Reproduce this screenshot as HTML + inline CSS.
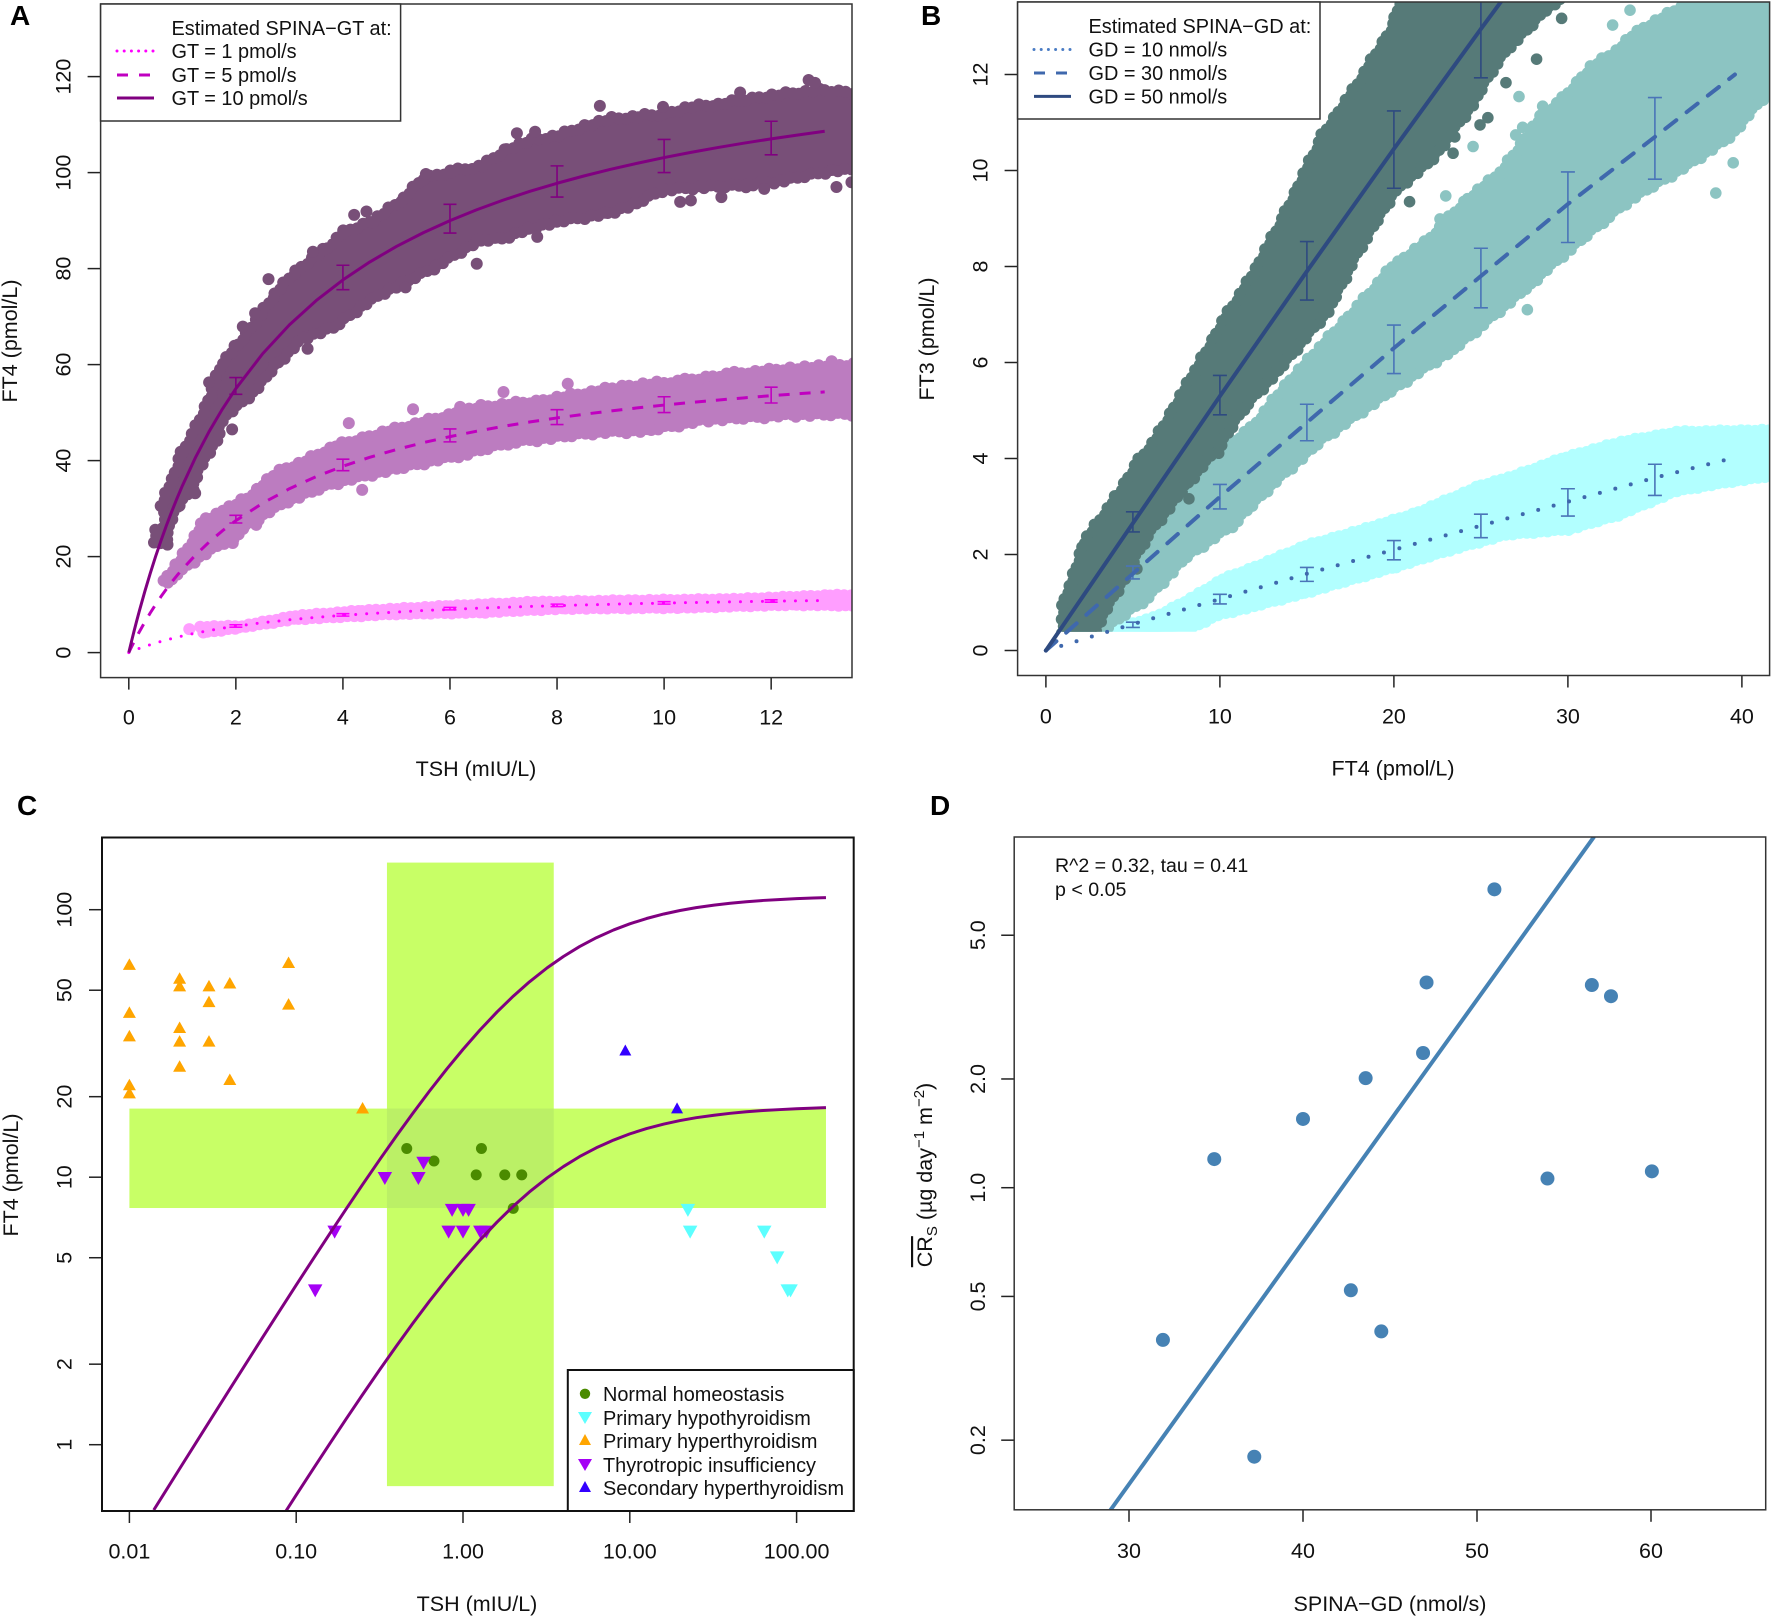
<!DOCTYPE html>
<html lang="en">
<head>
<meta charset="utf-8">
<title>SPINA thyroid model charts</title>
<style>
html,body{margin:0;padding:0;background:#fff;overflow:hidden;}
svg{display:block;font-family:"Liberation Sans",Arial,sans-serif;fill:#111;}
.ax{font-size:21.5px;}
.lg{font-size:19.9px;}
.pl{font-size:28px;font-weight:bold;fill:#000;}
</style>
</head>
<body>
<svg id="fig" xmlns="http://www.w3.org/2000/svg" width="1772" height="1616" viewBox="0 0 1772 1616">
  <defs>
    <clipPath id="clipA"><rect x="100.6" y="4" width="751.4" height="673.6"/></clipPath>
    <clipPath id="clipB"><rect x="1017.6" y="2" width="752" height="673.5"/></clipPath>
    <clipPath id="clipBCloud"><rect x="1017.6" y="2" width="752" height="629.7"/></clipPath>
    <clipPath id="clipC"><rect x="101.7" y="837.5" width="752" height="673.5"/></clipPath>
    <clipPath id="clipD"><rect x="1014.2" y="837" width="751.5" height="672.8"/></clipPath>
  </defs>
  <rect x="0" y="0" width="1772" height="1616" fill="#fff"/>

  <g id="marksA"></g>
  <g id="marksB"></g>
  <g id="marksC"></g>
  <g id="marksD"></g>

  <!-- Panel A frame, labels, legend -->
  <rect x="100.6" y="4" width="751.4" height="673.6" fill="none" stroke="#333" stroke-width="1.5"/>
  <text class="pl" x="10" y="25">A</text>
  <text class="ax" x="476" y="776" text-anchor="middle">TSH (mIU/L)</text>
  <text class="ax" transform="translate(17,341) rotate(-90)" text-anchor="middle">FT4 (pmol/L)</text>
  <g>
    <rect x="100.6" y="4" width="300" height="117" fill="#fff" stroke="#333" stroke-width="1.5"/>
    <text class="lg" x="171.5" y="35">Estimated SPINA−GT at:</text>
    <line x1="117" y1="51" x2="154" y2="51" stroke="#ff00ff" stroke-width="3" stroke-linecap="round" stroke-dasharray="0 7.2"/>
    <text class="lg" x="171.5" y="58">GT = 1 pmol/s</text>
    <line x1="117" y1="75" x2="154" y2="75" stroke="#c000c0" stroke-width="3" stroke-dasharray="11 11"/>
    <text class="lg" x="171.5" y="82">GT = 5 pmol/s</text>
    <line x1="117" y1="98" x2="154" y2="98" stroke="#800080" stroke-width="3"/>
    <text class="lg" x="171.5" y="105">GT = 10 pmol/s</text>
  </g>

  <!-- Panel B frame, labels, legend -->
  <rect x="1017.6" y="2" width="752" height="673.5" fill="none" stroke="#333" stroke-width="1.5"/>
  <text class="pl" x="921" y="25">B</text>
  <text class="ax" x="1393" y="775.5" text-anchor="middle">FT4 (pmol/L)</text>
  <text class="ax" transform="translate(934,339) rotate(-90)" text-anchor="middle">FT3 (pmol/L)</text>
  <g>
    <rect x="1017.6" y="2" width="302.4" height="117" fill="#fff" stroke="#333" stroke-width="1.5"/>
    <text class="lg" x="1088.5" y="33">Estimated SPINA−GD at:</text>
    <line x1="1034" y1="49.5" x2="1071" y2="49.5" stroke="#4a7cc4" stroke-width="3" stroke-linecap="round" stroke-dasharray="0 7.2"/>
    <text class="lg" x="1088.5" y="56.5">GD = 10 nmol/s</text>
    <line x1="1034" y1="73" x2="1071" y2="73" stroke="#3f68ad" stroke-width="3" stroke-dasharray="11 11"/>
    <text class="lg" x="1088.5" y="80">GD = 30 nmol/s</text>
    <line x1="1034" y1="96.4" x2="1071" y2="96.4" stroke="#2e4a80" stroke-width="3"/>
    <text class="lg" x="1088.5" y="103.4">GD = 50 nmol/s</text>
  </g>

  <!-- Panel C frame, labels, legend -->
  <rect x="102" y="837.5" width="751.7" height="673.5" fill="none" stroke="#111" stroke-width="2"/>
  <text class="pl" x="17" y="815">C</text>
  <text class="ax" x="477" y="1611" text-anchor="middle">TSH (mIU/L)</text>
  <text class="ax" transform="translate(18,1175) rotate(-90)" text-anchor="middle">FT4 (pmol/L)</text>
  <g>
    <rect x="567.8" y="1370" width="285.9" height="141" fill="#fff" stroke="#111" stroke-width="2"/>
    <circle cx="585" cy="1393.8" r="5.2" fill="#4b8b00"/>
    <text class="lg" x="603" y="1401">Normal homeostasis</text>
    <polygon points="578,1412 592,1412 585,1424" fill="#5cffff"/>
    <text class="lg" x="603" y="1425">Primary hypothyroidism</text>
    <polygon points="585,1434 591,1445 579,1445" fill="#ffa500"/>
    <text class="lg" x="603" y="1448">Primary hyperthyroidism</text>
    <polygon points="578,1459 592,1459 585,1471" fill="#a500f5"/>
    <text class="lg" x="603" y="1472">Thyrotropic insufficiency</text>
    <polygon points="585,1481 591,1492 579,1492" fill="#3300ff"/>
    <text class="lg" x="603" y="1495">Secondary hyperthyroidism</text>
  </g>

  <!-- Panel D frame, labels, annotation -->
  <rect x="1014.2" y="837" width="751.5" height="672.8" fill="none" stroke="#333" stroke-width="1.5"/>
  <text class="pl" x="930" y="815">D</text>
  <text class="ax" x="1390" y="1611" text-anchor="middle">SPINA−GD (nmol/s)</text>
  <text class="ax" transform="translate(932,1175) rotate(-90)" text-anchor="middle"><tspan style="text-decoration:overline">CR</tspan><tspan font-size="15" dy="5">S</tspan><tspan dy="-5"> (µg day</tspan><tspan font-size="15" dy="-8">−1</tspan><tspan dy="8"> m</tspan><tspan font-size="15" dy="-8">−2</tspan><tspan dy="8">)</tspan></text>
  <text x="1055" y="872" font-size="19.6">R^2 = 0.32, tau = 0.41</text>
  <text x="1055" y="896" font-size="19.6">p &lt; 0.05</text>

<script>
// ---------- Panel A data ----------
var gtTicksX = [0, 2, 4, 6, 8, 10, 12];
var gtTicksY = [0, 20, 40, 60, 80, 100, 120];
var gtCurveTsh = [0,0.05,0.1,0.15,0.2,0.3,0.4,0.5,0.6,0.7,0.8,0.9,1,1.25,1.5,1.75,2,2.5,3,3.5,4,4.5,5,5.5,6,6.5,7,7.5,8,8.5,9,9.5,10,10.5,11,11.5,12,12.5,13];
var gt10Curve = [0,2.32,4.55,6.71,8.8,12.77,16.5,20,23.29,26.4,29.33,32.11,34.74,40.74,46.05,50.77,55,62.26,68.28,73.33,77.65,81.37,84.62,87.47,90,92.26,94.29,96.12,97.78,99.29,100.68,101.95,103.13,104.21,105.22,106.15,107.03,107.84,108.61];
var gt5Curve = [0,1.16,2.28,3.36,4.4,6.39,8.25,10,11.65,13.2,14.67,16.06,17.37,20.37,23.03,25.39,27.5,31.13,34.14,36.67,38.83,40.69,42.31,43.74,45,46.13,47.15,48.06,48.89,49.65,50.34,50.98,51.57,52.11,52.61,53.08,53.52,53.92,54.31];
var gt1Curve = [0,0.23,0.46,0.67,0.88,1.28,1.65,2,2.33,2.64,2.93,3.21,3.47,4.07,4.61,5.08,5.5,6.23,6.83,7.33,7.77,8.14,8.46,8.75,9,9.23,9.43,9.61,9.78,9.93,10.07,10.2,10.31,10.42,10.52,10.62,10.7,10.78,10.86];
var gtBarTsh = [2, 4, 6, 8, 10, 12];
var gt10BarHi = [57.3, 80.7, 93.4, 101.4, 106.9, 110.7];
var gt10BarLo = [53.8, 75.6, 87.4, 94.9, 100, 103.7];
var gt5BarHi = [28.6, 40.3, 46.6, 50.6, 53.3, 55.3];
var gt5BarLo = [27, 37.9, 43.9, 47.5, 50, 52];
var gt1BarHi = [5.8, 8.1, 9.4, 10.1, 10.6, 11];
var gt1BarLo = [5.3, 7.6, 8.9, 9.6, 10.1, 10.5];
var gt10Upper = [[0.4,21.8],[0.4,26],[0.6,27],[0.49,30.4],[0.71,36.6],[0.89,42.2],[1.17,47.8],[1.42,54],[1.64,61],[1.95,65],[2.3,70],[2.64,75.5],[3.04,80.4],[3.63,85.3],[3.95,88.7],[4.5,91],[5.07,95.7],[5.44,99.9],[6,101.5],[6.56,102.6],[7,106],[7.5,108],[8,109],[8.5,111],[9,112.5],[9.5,113],[10,113.5],[10.5,115],[11,115.5],[11.5,116.5],[12,117.3],[12.5,118],[13,118.5],[14,117]];
var gt10Lower = [[0.82,21.8],[0.83,26],[1.01,29.7],[1.29,33.5],[1.45,38.7],[1.76,43.7],[1.83,47.8],[2.41,53.3],[2.82,58.9],[3.32,64.4],[3.88,66.6],[4.41,71],[4.82,73.9],[5.75,79],[6.56,84.6],[7,85],[7.5,87],[8,88.5],[8.93,90.1],[9.49,92.2],[9.98,95],[10.67,95.7],[11.54,96],[12.2,97],[13.15,99.1],[14,100]];
var gt10Outliers = [[2.61,77.8],[8.8,113.9],[6.5,81],[7.63,86.6],[13.22,97],[13.5,98],[1.93,46.5],[4.21,91.2],[12.7,119.3],[12.82,118.7],[10.3,93.9],[10.5,94.2],[5.17,76.1],[7.25,108.2],[7.59,108.5],[11.42,116.7],[3.34,63.3],[3.44,83.5],[2.36,70.7],[2.13,67.9],[1.5,56.3],[5.55,99.7],[4.44,91.9],[1.24,33.2],[11.07,94.9],[11.87,96.6],[9.98,113.7]];
var gt5Upper = [[0.6,15.8],[0.87,20],[1.33,28.3],[1.83,31.4],[2.14,33.2],[2.76,39],[3.14,40.5],[3.82,44.3],[4.82,47.4],[5.7,50],[6.56,52.5],[7.6,53.6],[9.2,56.7],[10.25,57.8],[11.3,59.4],[12.36,60.5],[14,61]];
var gt5Lower = [[0.76,13.2],[1.05,16.4],[1.8,21.7],[2.01,22],[2.2,24.9],[2.58,27.6],[3.01,30.4],[3.82,33.9],[4.82,36.6],[6.31,40.1],[7.1,42.4],[8.67,44.5],[9.7,45],[10.8,47.2],[12.4,48.2],[14,49]];
var gt5Outliers = [[4.11,47.8],[4.36,33.9],[8.2,56],[5.31,50.7],[7,54.3],[13.13,60.7],[0.65,15],[2.38,26.6],[1.44,28],[6.19,51.2]];
var gt1Upper = [[1.23,6],[2.1,6.8],[3.1,8.9],[4.35,10],[6,11],[7.6,11.8],[9.2,12.1],[11.3,12.4],[13.1,13.2],[14,12.9]];
var gt1Lower = [[1.34,3.1],[2,3.8],[3.1,5.7],[5,6.8],[6.56,7.1],[8.1,7.9],[10.25,8.1],[12.4,8.7],[14,8.9]];
var gt1Outliers = [[1.13,4.9]];

// ---------- Panel B data ----------
var gdTicksX = [0, 10, 20, 30, 40];
var gdTicksY = [0, 2, 4, 6, 8, 10, 12];
var gd50CurveX = [0, 5, 10, 15, 20, 25, 30];
var gd50CurveY = [0, 2.65, 5.3, 7.9, 10.45, 12.95, 15.4];
var gd30CurveX = [0, 5, 10, 15, 20, 25, 30, 35, 39.6];
var gd30CurveY = [0, 1.6, 3.2, 4.75, 6.3, 7.8, 9.3, 10.7, 12];
var gd10CurveX = [0, 5, 10, 15, 20, 25, 30, 35, 39.7];
var gd10CurveY = [0, 0.55, 1.07, 1.6, 2.1, 2.6, 3.1, 3.6, 4.03];
var gd50BarX = [5, 10, 15, 20, 25];
var gd50BarHi = [2.89, 5.73, 8.52, 11.24, 14.2];
var gd50BarLo = [2.47, 4.91, 7.3, 9.63, 11.93];
var gd30BarX = [5, 10, 15, 20, 25, 30, 35];
var gd30BarHi = [1.76, 3.46, 5.13, 6.78, 8.38, 9.97, 11.52];
var gd30BarLo = [1.49, 2.95, 4.37, 5.77, 7.14, 8.5, 9.82];
var gd10BarX = [5, 10, 15, 20, 25, 30, 35];
var gd10BarHi = [0.59, 1.17, 1.73, 2.29, 2.84, 3.37, 3.88];
var gd10BarLo = [0.48, 0.97, 1.44, 1.89, 2.35, 2.8, 3.23];
var gd50Upper = [[0.7,0.25],[0.7,1.1],[1.2,1.5],[1.85,2.3],[3.8,3.3],[5.1,4.05],[6.07,4.5],[8.3,5.9],[10,7],[11.6,7.9],[13.5,9.2],[15.6,10.8],[17.4,11.75],[19.7,13.1],[20.5,14.2]];
var gd50Lower = [[3.15,0.25],[3.3,0.5],[4.8,1.44],[6.07,2.29],[8.3,3.35],[10.3,4.2],[11.6,4.95],[13.5,5.7],[16.5,7],[18.4,8.35],[20.35,9.5],[22.5,10.16],[24.8,11.3],[25.9,12],[26.9,12.5],[28.2,12.95],[28.9,13.25],[30.5,13.6],[32,14.2]];
var gd50Outliers = [[29.64,13.17],[28.2,12.32],[26.44,11.83],[23.5,10.7],[23.4,10.36],[20.9,9.35],[24.95,10.95],[25.4,11.1],[8.22,3.16],[5.23,1.7],[9.93,4.11]];
var gd30Upper = [[0.7,0.25],[0.7,1],[5,3],[11.6,4.73],[13.5,5.6],[15.5,6.4],[17.8,7.3],[19.7,8.1],[21.6,8.6],[24,9.5],[25.9,10.05],[28.2,11.2],[29.5,11.6],[31.1,12.25],[32.6,12.6],[33.8,13],[36.3,13.5],[37,14.2],[42,14.2]];
var gd30Lower = [[3.15,0.25],[6.07,1],[8.3,1.86],[10.9,2.5],[13.2,3.35],[16.1,4.3],[20,5.3],[23.6,6.17],[25.2,6.65],[27.8,7.45],[29.9,8.13],[32.2,8.83],[33.8,9.3],[36.8,9.94],[39.5,10.6],[41.4,11.4],[42,11.6]];
var gd30Outliers = [[33.57,13.34],[32.57,13.03],[27.19,11.54],[28.55,11.34],[24.55,10.5],[22.98,9.47],[38.5,9.53],[39.5,10.16],[27,10.74],[27.4,10.9],[22.65,8.99],[27.67,7.1]];
var gd10Upper = [[3.15,0.25],[3.15,0.5],[6.07,0.8],[8.3,1.22],[10,1.6],[11.9,1.86],[14.8,2.3],[18.7,2.7],[21.3,3],[24.9,3.56],[26.5,3.72],[29.8,4.15],[33,4.47],[36.3,4.68],[42,4.68]];
var gd10Lower = [[6.4,0.25],[8.2,0.3],[10,0.62],[11.6,0.76],[14.8,1.06],[20,1.6],[23.3,1.97],[26.5,2.29],[30.1,2.4],[33,2.7],[36.3,3.2],[39.5,3.4],[42,3.56]];

// ---------- Panel C data ----------
var tshTicks = [0.01, 0.1, 1, 10, 100];
var tshTickLabels = ['0.01', '0.10', '1.00', '10.00', '100.00'];
var ft4Ticks = [1, 2, 5, 10, 20, 50, 100];
var curveHighTsh = [0.014,0.016,0.02,0.025,0.032,0.04,0.05,0.063,0.08,0.1,0.126,0.16,0.2,0.25,0.32,0.4,0.5,0.63,0.8,1,1.26,1.6,2,2.5,3.2,4,5,6.3,8,10,12.6,16,20,25,32,40,50,63,80,100,126,150];
var curveHigh = [0.57,0.651,0.813,1.014,1.295,1.614,2.011,2.522,3.183,3.951,4.933,6.192,7.635,9.385,11.74,14.3,17.33,21,25.39,30.05,35.42,41.47,47.48,53.71,60.67,66.86,72.81,78.58,84.01,88.56,92.7,96.38,99.3,101.8,104,105.7,107.1,108.3,109.2,110,110.6,111];
var curveLowTsh = [0.08,0.1,0.126,0.16,0.2,0.25,0.32,0.4,0.5,0.63,0.8,1,1.26,1.6,2,2.5,3.2,4,5,6.3,8,10,12.6,16,20,25,32,40,50,63,80,100,126,150];
var curveLow = [0.522,0.648,0.809,1.015,1.252,1.539,1.925,2.344,2.841,3.443,4.162,4.926,5.807,6.798,7.784,8.805,9.946,10.96,11.94,12.88,13.77,14.52,15.2,15.8,16.28,16.69,17.05,17.33,17.56,17.75,17.9,18.03,18.13,18.2];
var refTsh = [0.35, 3.5];
var refFt4 = [7.67, 18.05];
var bandTsh = [0.01, 150];
var bandFt4 = [0.7, 150];
var normalPts = [[0.46,12.8],[0.67,11.5],[1.29,12.8],[1.2,10.2],[1.78,10.2],[2.25,10.2],[2,7.65]];
var hypoPts = [[22.3,7.6],[23,6.3],[64,6.3],[76.5,5.05],[88.5,3.8],[92,3.8]];
var hyperPts = [[0.01,62],[0.01,41],[0.01,33.5],[0.01,22],[0.01,20.5],[0.02,55],[0.02,51.5],[0.02,36],[0.02,32],[0.02,25.8],[0.03,51.5],[0.03,45],[0.03,32],[0.04,52.8],[0.04,23],[0.09,63],[0.09,44],[0.25,18]];
var thyroPts = [[0.13,3.8],[0.17,6.3],[0.34,10],[0.54,10],[0.58,11.4],[0.86,7.6],[1,7.6],[1.08,7.6],[0.82,6.3],[1,6.3],[1.27,6.3],[1.38,6.3]];
var secondaryPts = [[9.4,29.6],[19.2,18]];

// ---------- Panel D data ----------
var spinaTicks = [30, 40, 50, 60];
var crTicks = [0.2, 0.5, 1, 2, 5];
var crTickLabels = ['0.2', '0.5', '1.0', '2.0', '5.0'];
var spinaValues = [31.95, 34.9, 37.2, 40, 42.75, 43.6, 44.5, 46.9, 47.1, 51, 54.05, 56.6, 57.7, 60.05];
var crValues = [0.379, 1.2, 0.18, 1.55, 0.52, 2.01, 0.4, 2.36, 3.7, 6.7, 1.06, 3.64, 3.39, 1.11];
var fitSpina = [28.93, 56.73];
var fitCr = [0.128, 9.37];

// ---------- Axis functions ----------
function xA(v) { return 128.8 + 53.53 * v; }
function yA(v) { return 652.6 - 4.8 * v; }
function xB(v) { return 1045.9 + 17.4 * v; }
function yB(v) { return 650.5 - 48 * v; }
function xC(v) { return 129.4 + 166.8 * (Math.log10(v) + 2); }
function yC(v) { return 1444.7 - 267.5 * Math.log10(v); }
function xD(v) { return 1129 + 17.4 * (v - 30); }
function yD(v) { return 1187.7 - 361.2 * Math.log10(v); }

var NS = 'http://www.w3.org/2000/svg';
function make(parent, tag, attrs) {
  var el = document.createElementNS(NS, tag);
  for (var k in attrs) { el.setAttribute(k, attrs[k]); }
  parent.appendChild(el);
  return el;
}
function drawLine(parent, xs, ys, fx, fy, stroke, width, dash, cap, clip, name) {
  var pts = xs.map(function (x, i) { return fx(x).toFixed(2) + ',' + fy(ys[i]).toFixed(2); }).join(' ');
  var el = make(parent, 'polyline', { points: pts, fill: 'none', stroke: stroke, 'stroke-width': width, 'stroke-linejoin': 'round', 'stroke-linecap': cap, 'clip-path': 'url(#' + clip + ')' });
  if (dash) { el.setAttribute('stroke-dasharray', dash); }
  
  
}
function drawBars(parent, xs, hi, lo, fx, fy, stroke, cap, clip, name) {
  xs.forEach(function (x, i) {
    var px = fx(x), t = fy(hi[i]), b = fy(lo[i]);
    var d = 'M' + px + ' ' + t + 'V' + b + 'M' + (px - cap) + ' ' + t + 'H' + (px + cap) + 'M' + (px - cap) + ' ' + b + 'H' + (px + cap);
    var el = make(parent, 'path', { d: d, fill: 'none', stroke: stroke, 'stroke-width': 1.6, 'clip-path': 'url(#' + clip + ')' });
    
    
  });
}
function drawCloud(parent, upper, lower, outliers, fx, fy, color, r, amp, clip, name) {
  var outline = upper.concat(lower.slice().reverse()).map(function (p) { return [fx(p[0]), fy(p[1])]; });
  var n = outline.length, area = 0, i;
  for (i = 0; i < n; i++) {
    var a = outline[i], b = outline[(i + 1) % n];
    area += a[0] * b[1] - b[0] * a[1];
  }
  var sign = area > 0 ? 1 : -1;
  function normal(a, b) {
    var dx = b[0] - a[0], dy = b[1] - a[1], len = Math.hypot(dx, dy) || 1;
    return [-dy / len * sign, dx / len * sign];
  }
  var inset = [], depth = r + 1.5 * amp;
  for (i = 0; i < n; i++) {
    var n1 = normal(outline[(i + n - 1) % n], outline[i]);
    var n2 = normal(outline[i], outline[(i + 1) % n]);
    var mx = n1[0] + n2[0], my = n1[1] + n2[1], ml = Math.hypot(mx, my) || 1;
    inset.push([outline[i][0] + mx / ml * depth, outline[i][1] + my / ml * depth]);
  }
  var poly = make(parent, 'polygon', { points: inset.map(function (p) { return p[0].toFixed(1) + ',' + p[1].toFixed(1); }).join(' '), fill: color, stroke: color, 'stroke-width': 2, 'clip-path': 'url(#' + clip + ')' });
  
  

  // scalloped edge of marker-sized dots walking along the envelope
  var bump = [1.5, 0, 2.5, 0.5, 3, 1, 0, 2, 0.5, 3, 1.2, 0, 2.2];
  var d = '', count = 0;
  function dot(x, y, rad) {
    return 'M' + (x - rad).toFixed(1) + ' ' + y.toFixed(1) + 'a' + rad + ' ' + rad + ' 0 1 0 ' + (2 * rad) + ' 0a' + rad + ' ' + rad + ' 0 1 0 ' + (-2 * rad) + ' 0';
  }
  for (i = 0; i < n; i++) {
    var p = inset[i], q = inset[(i + 1) % n], nn = normal(p, q);
    var L = Math.hypot(q[0] - p[0], q[1] - p[1]);
    for (var s = 0; s < L; s += 7) {
      var off = bump[count % bump.length] * amp;
      count++;
      d += dot(p[0] + (q[0] - p[0]) * s / L - nn[0] * off, p[1] + (q[1] - p[1]) * s / L - nn[1] * off, r);
    }
  }
  var edge = make(parent, 'path', { d: d, fill: color, 'clip-path': 'url(#' + clip + ')' });
  
  

  (outliers || []).forEach(function (pt) {
    var c = make(parent, 'circle', { cx: fx(pt[0]), cy: fy(pt[1]), r: r, fill: color, 'clip-path': 'url(#' + clip + ')' });
    
    
  });
}
function drawXAxis(parent, vals, labels, fx, top, len, base, panel) {
  vals.forEach(function (v, i) {
    var px = fx(v);
    var t = make(parent, 'line', { x1: px, x2: px, y1: top, y2: top + len, stroke: '#222', 'stroke-width': 1.5 });
    
    
    var l = make(parent, 'text', { x: px, y: base, 'text-anchor': 'middle', 'class': 'ax' });
    l.textContent = labels[i];
    
    
  });
}
function drawYAxis(parent, vals, labels, fy, left, len, base, panel) {
  vals.forEach(function (v, i) {
    var py = fy(v);
    var t = make(parent, 'line', { x1: left - len, x2: left, y1: py, y2: py, stroke: '#222', 'stroke-width': 1.5 });
    
    
    var l = make(parent, 'text', { transform: 'translate(' + base + ',' + py + ') rotate(-90)', 'text-anchor': 'middle', 'class': 'ax' });
    l.textContent = labels[i];
    
    
  });
}
function drawMarkers(parent, pts, shape, color, w, h, name) {
  pts.forEach(function (pt) {
    var x = xC(pt[0]), y = yC(pt[1]), el;
    if (shape === 'circle') {
      el = make(parent, 'circle', { cx: x, cy: y, r: w / 2, fill: color });
    } else if (shape === 'up') {
      el = make(parent, 'polygon', { points: x + ',' + (y - h * 0.6) + ' ' + (x + w / 2) + ',' + (y + h * 0.4) + ' ' + (x - w / 2) + ',' + (y + h * 0.4), fill: color });
    } else {
      el = make(parent, 'polygon', { points: (x - w / 2) + ',' + (y - h * 0.4) + ' ' + (x + w / 2) + ',' + (y - h * 0.4) + ' ' + x + ',' + (y + h * 0.6), fill: color });
    }
    
    
  });
}
function str(a) { return a.map(String); }

// ---------- Panel A ----------
var gA = document.getElementById('marksA');
drawCloud(gA, gt10Upper, gt10Lower, gt10Outliers, xA, yA, '#784f78', 6, 1, 'clipA', 'gt10-cloud');
drawCloud(gA, gt5Upper, gt5Lower, gt5Outliers, xA, yA, '#bc7cc0', 6, 1, 'clipA', 'gt5-cloud');
drawCloud(gA, gt1Upper, gt1Lower, gt1Outliers, xA, yA, '#ff9eff', 6, 0.3, 'clipA', 'gt1-cloud');
drawBars(gA, gtBarTsh, gt1BarHi, gt1BarLo, xA, yA, '#ff00ff', 6.5, 'clipA', 'gt1-error-bar');
drawBars(gA, gtBarTsh, gt5BarHi, gt5BarLo, xA, yA, '#c000c0', 6.5, 'clipA', 'gt5-error-bar');
drawBars(gA, gtBarTsh, gt10BarHi, gt10BarLo, xA, yA, '#800080', 6.5, 'clipA', 'gt10-error-bar');
drawLine(gA, gtCurveTsh, gt1Curve, xA, yA, '#ff00ff', 3, '0 11', 'round', 'clipA', 'gt1-curve');
drawLine(gA, gtCurveTsh, gt5Curve, xA, yA, '#c000c0', 3, '11 10', 'butt', 'clipA', 'gt5-curve');
drawLine(gA, gtCurveTsh, gt10Curve, xA, yA, '#800080', 3, '', 'butt', 'clipA', 'gt10-curve');
drawXAxis(gA, gtTicksX, str(gtTicksX), xA, 677.6, 12, 724.5, 'panel-a');
drawYAxis(gA, gtTicksY, str(gtTicksY), yA, 100.6, 13, 70.6, 'panel-a');

// ---------- Panel B ----------
var gB = document.getElementById('marksB');
drawCloud(gB, gd10Upper, gd10Lower, [], xB, yB, '#b2ffff', 5.8, 0.4, 'clipBCloud', 'gd10-cloud');
drawCloud(gB, gd30Upper, gd30Lower, gd30Outliers, xB, yB, '#8cc4c2', 5.8, 1, 'clipBCloud', 'gd30-cloud');
drawCloud(gB, gd50Upper, gd50Lower, gd50Outliers, xB, yB, '#567a78', 5.8, 1, 'clipBCloud', 'gd50-cloud');
drawBars(gB, gd10BarX, gd10BarHi, gd10BarLo, xB, yB, '#4a74b8', 7, 'clipB', 'gd10-error-bar');
drawBars(gB, gd30BarX, gd30BarHi, gd30BarLo, xB, yB, '#4a74b8', 7, 'clipB', 'gd30-error-bar');
drawBars(gB, gd50BarX, gd50BarHi, gd50BarLo, xB, yB, '#2e4a80', 7, 'clipB', 'gd50-error-bar');
drawLine(gB, gd10CurveX, gd10CurveY, xB, yB, '#3f68ad', 4, '0 16', 'round', 'clipB', 'gd10-curve');
drawLine(gB, gd30CurveX, gd30CurveY, xB, yB, '#3f68ad', 4, '14 13', 'round', 'clipB', 'gd30-curve');
drawLine(gB, gd50CurveX, gd50CurveY, xB, yB, '#2e4a80', 4, '', 'round', 'clipB', 'gd50-curve');
drawXAxis(gB, gdTicksX, str(gdTicksX), xB, 675.5, 12, 723.5, 'panel-b');
drawYAxis(gB, gdTicksY, str(gdTicksY), yB, 1017.6, 13, 987.7, 'panel-b');

// ---------- Panel C ----------
var gC = document.getElementById('marksC');
var bandV = make(gC, 'rect', { x: xC(refTsh[0]), y: yC(bandFt4[1]), width: xC(refTsh[1]) - xC(refTsh[0]), height: yC(bandFt4[0]) - yC(bandFt4[1]), fill: '#c8ff66' });


var bandH = make(gC, 'rect', { x: xC(bandTsh[0]), y: yC(refFt4[1]), width: xC(bandTsh[1]) - xC(bandTsh[0]), height: yC(refFt4[0]) - yC(refFt4[1]), fill: '#c8ff66' });


var bandO = make(gC, 'rect', { x: xC(refTsh[0]), y: yC(refFt4[1]), width: xC(refTsh[1]) - xC(refTsh[0]), height: yC(refFt4[0]) - yC(refFt4[1]), fill: '#bbf066' });


drawMarkers(gC, normalPts, 'circle', '#4b8b00', 11, 11, 'point-normal-homeostasis');
drawMarkers(gC, hypoPts, 'down', '#5cffff', 14.5, 13, 'point-primary-hypothyroidism');
drawMarkers(gC, hyperPts, 'up', '#ffa500', 13, 11.5, 'point-primary-hyperthyroidism');
drawMarkers(gC, thyroPts, 'down', '#a500f5', 14.5, 13, 'point-thyrotropic-insufficiency');
drawMarkers(gC, secondaryPts, 'up', '#3300ff', 12, 11, 'point-secondary-hyperthyroidism');
drawLine(gC, curveHighTsh, curveHigh, xC, yC, '#800080', 3, '', 'butt', 'clipC', 'gt-high-curve');
drawLine(gC, curveLowTsh, curveLow, xC, yC, '#800080', 3, '', 'butt', 'clipC', 'gt-low-curve');
drawXAxis(gC, tshTicks, tshTickLabels, xC, 1511, 12, 1558.5, 'panel-c');
drawYAxis(gC, ft4Ticks, str(ft4Ticks), yC, 102, 13, 71.7, 'panel-c');

// ---------- Panel D ----------
var gD = document.getElementById('marksD');
drawLine(gD, fitSpina, fitCr, xD, yD, '#4682b4', 4, '', 'butt', 'clipD', 'regression-line');
spinaValues.forEach(function (v, i) {
  var c = make(gD, 'circle', { cx: xD(v), cy: yD(crValues[i]), r: 7, fill: '#4682b4' });
  
  
});
drawXAxis(gD, spinaTicks, str(spinaTicks), xD, 1509.8, 12, 1558, 'panel-d');
drawYAxis(gD, crTicks, crTickLabels, yD, 1014.2, 13, 985, 'panel-d');
</script>
</svg>
</body>
</html>
